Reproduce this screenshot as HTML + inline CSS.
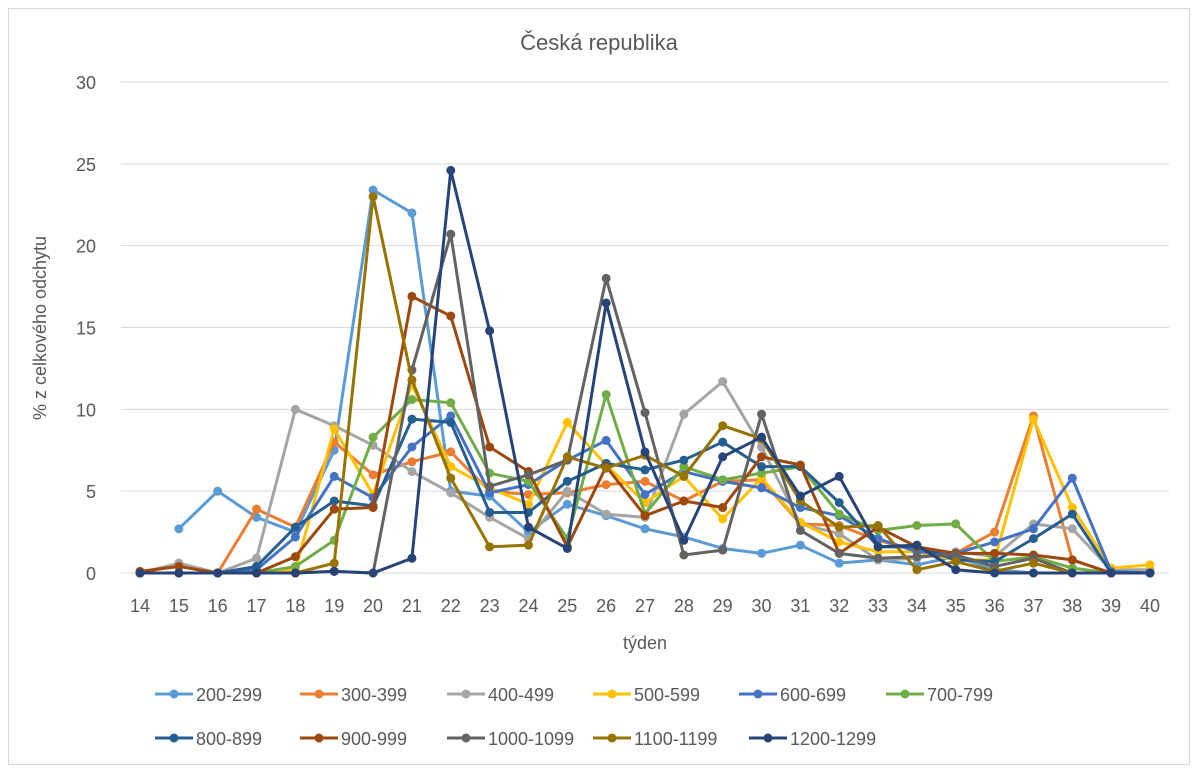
<!DOCTYPE html>
<html><head><meta charset="utf-8"><style>
body{margin:0;background:#fff}
svg text{font-family:"Liberation Sans",sans-serif;fill:#595959}
</style></head><body>
<svg id="s" width="1199" height="773" xmlns="http://www.w3.org/2000/svg">
<rect x="0" y="0" width="1199" height="773" fill="#fff"/>
<rect x="8.5" y="8.5" width="1181" height="756" fill="none" stroke="#d9d9d9"/>
<text x="599" y="50" font-size="22" text-anchor="middle">Česká republika</text>
<text transform="translate(46,328) rotate(-90)" font-size="18" text-anchor="middle">% z celkového odchytu</text>
<text x="645" y="649" font-size="18" text-anchor="middle">týden</text>
<g id="g"></g>
</svg>
<script>
const X0=140,DX=(1150-140)/26,Y0=573,DY=(573-82)/30;
const NS="http://www.w3.org/2000/svg",g=document.getElementById('g');
function el(t,a,txt){const e=document.createElementNS(NS,t);for(const k in a)e.setAttribute(k,a[k]);if(txt!==undefined)e.textContent=txt;g.appendChild(e);return e;}
for(let v=0;v<=30;v+=5){const y=Y0-v*DY;el('line',{x1:121,x2:1169,y1:y,y2:y,stroke:'#d9d9d9','stroke-width':1});el('text',{x:96,y:y+7,'font-size':18,'text-anchor':'end'},v);}
for(let w=14;w<=40;w++){el('text',{x:X0+(w-14)*DX,y:612,'font-size':18,'text-anchor':'middle'},w);}
const S=[
["200-299","#5B9BD5",[null,2.7,5.0,3.4,2.5,7.5,23.4,22.0,5.0,4.7,2.5,4.2,3.5,2.7,2.2,1.5,1.2,1.7,0.6,0.8,0.5,1.0,0.2,0,0,0,0]],
["300-399","#ED7D31",[0,0.5,0,3.9,2.8,8.0,6.0,6.8,7.4,5.0,4.8,4.9,5.4,5.6,4.4,5.6,5.7,3.0,2.9,2.0,1.4,1.2,2.5,9.6,0.8,0,0]],
["400-499","#A5A5A5",[0,0.6,0,0.9,10.0,9.0,7.8,6.2,4.9,3.4,2.1,5.0,3.6,3.4,9.7,11.7,7.7,3.0,2.4,0.8,0.9,1.3,1.0,3.0,2.7,0.2,0.2]],
["500-599","#FFC000",[0,0,0,0,0.2,8.8,4.8,11.5,6.5,5.2,4.2,9.2,6.6,4.3,5.9,3.3,5.8,3.1,1.9,1.3,1.3,0.8,0.8,9.4,4.0,0.3,0.5]],
["600-699","#4472C4",[0,0,0,0.2,2.2,5.9,4.6,7.7,9.6,4.9,5.4,6.9,8.1,4.8,6.2,5.6,5.2,4.0,3.5,2.1,1.3,1.2,1.9,2.7,5.8,0.1,0]],
["700-799","#70AD47",[0,0,0,0,0.4,2.0,8.3,10.6,10.4,6.1,5.6,2.1,10.9,3.6,6.5,5.7,6.1,6.5,3.6,2.6,2.9,3.0,0.7,1.0,0.3,0,0]],
["800-899","#255E91",[0,0,0,0.4,2.8,4.4,4.1,9.4,9.2,3.7,3.7,5.6,6.7,6.3,6.9,8.0,6.5,6.5,4.3,1.6,1.6,0.8,0.7,2.1,3.6,0,0]],
["900-999","#9E480E",[0.1,0.4,0,0,1.0,3.9,4.0,16.9,15.7,7.7,6.2,1.6,6.5,3.5,4.4,4.0,7.1,6.6,1.2,2.8,1.6,1.2,1.2,1.1,0.8,0,0]],
["1000-1099","#636363",[0,0,0,0,0,0.1,0,12.4,20.7,5.3,6.0,6.9,18.0,9.8,1.1,1.4,9.7,2.6,1.2,0.9,1.0,1.1,0.4,0.9,0,0,0]],
["1100-1199","#997300",[0,0,0,0,0,0.6,23.0,11.8,5.8,1.6,1.7,7.1,6.4,7.2,5.9,9.0,8.2,4.4,2.8,2.9,0.2,0.7,0.1,0.6,0,0,0]],
["1200-1299","#264478",[0,0,0,0,0,0.1,0,0.9,24.6,14.8,2.8,1.5,16.5,7.4,2.0,7.1,8.3,4.7,5.9,1.6,1.7,0.2,0,0,0,0,0]]];
const LP=[[155,694],[300,694],[447,694],[593,694],[739,694],[886,694],[155,738],[300,738],[447,738],[593,738],[749,738]];
S.forEach((s,i)=>{let pts=[];s[2].forEach((v,j)=>{if(v!==null)pts.push([X0+j*DX,Y0-v*DY]);});
el('polyline',{points:pts.map(p=>p.join(',')).join(' '),fill:'none',stroke:s[1],'stroke-width':3,'stroke-linejoin':'round'});
pts.forEach(p=>el('circle',{cx:p[0],cy:p[1],r:4.5,fill:s[1]}));
const [lx,ly]=LP[i];el('line',{x1:lx,x2:lx+38,y1:ly,y2:ly,stroke:s[1],'stroke-width':3});el('circle',{cx:lx+19,cy:ly,r:4.5,fill:s[1]});
el('text',{x:lx+41,y:ly+7,'font-size':18},s[0]);});
</script>
</body></html>
